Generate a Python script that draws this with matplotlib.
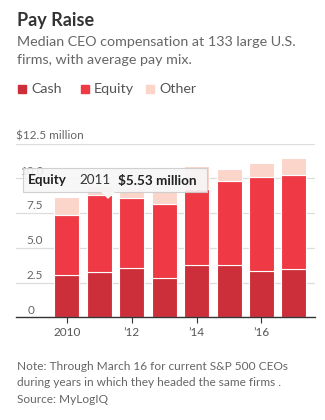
import matplotlib
matplotlib.use("Agg")
import matplotlib.pyplot as plt
from matplotlib.patches import Rectangle, FancyBboxPatch, Polygon
from matplotlib.transforms import blended_transform_factory
import numpy as np

plt.rcParams['font.family'] = ['Lato', 'DejaVu Sans']

years = [2010, 2011, 2012, 2013, 2014, 2015, 2016, 2017]
cash = [3.02, 3.24, 3.52, 2.81, 3.74, 3.74, 3.31, 3.45]
equity = [4.32, 5.53, 5.04, 5.36, 5.47, 6.09, 6.81, 6.81]
other = [1.31, 0.70, 0.75, 1.00, 1.67, 0.84, 1.00, 1.22]
series_names = ["Cash", "Equity", "Other"]
colors = ["#cc2f3a", "#ef3a46", "#fbd4ca"]
yticks = [0, 2.5, 5.0, 7.5, 10.0]
ytick_labels = ["0", "2.5", "5.0", "7.5", "10.0"]
xticks = [2010, 2012, 2014, 2016]
xtick_labels = ["2010", "\u201912", "\u201914", "\u201916"]

W, H = 325, 420
fig = plt.figure(figsize=(W / 100, H / 100), dpi=100)

def fx(px):
    return px / W

def fy(py):
    return 1 - py / H

ax = fig.add_axes([fx(16), fy(317.3), fx(299), (317.3 - 143.5) / H])
ax.set_xlim(2008.43, 2017.65)
ax.set_ylim(0, 12.5)

for s in ["top", "right", "left"]:
    ax.spines[s].set_visible(False)
ax.spines["bottom"].set_color("#333333")
ax.spines["bottom"].set_linewidth(1.0)
ax.spines["bottom"].set_zorder(5)

for v in yticks[1:] + [12.5]:
    ax.axhline(v, color="#dddddd", lw=0.9, zorder=0)

bw = 0.77
bottoms = np.zeros(len(years))
for vals, col in zip([cash, equity, other], colors):
    ax.bar(years, vals, bottom=bottoms, width=bw, color=col,
           edgecolor="white", linewidth=0.8, zorder=2)
    bottoms = bottoms + np.array(vals)

ax.set_yticks([])
ax.set_xticks(xticks)
ax.set_xticklabels(xtick_labels, fontsize=8.5, color="#555555")
ax.tick_params(axis="x", length=4, width=0.8, color="#333333", pad=3)

trans = blended_transform_factory(ax.transAxes, ax.transData)
for v, lab in zip(yticks, ytick_labels):
    xr = 0.0903 if lab != "0" else 0.0635
    ax.text(xr, v + 0.12, lab, transform=trans, ha="right", va="bottom",
            fontsize=8.5, color="#666666", zorder=1)
ax.text(0.0, 12.5 + 0.12, "$12.5 million", transform=trans, ha="left",
        va="bottom", fontsize=8.5, color="#666666")

# Titles
fig.text(fx(17), fy(26), "Pay Raise", fontsize=13, fontweight="bold",
         color="#333333", va="baseline", ha="left")
fig.text(fx(17), fy(46), "Median CEO compensation at 133 large U.S.",
         fontsize=10.3, color="#666666", va="baseline", ha="left")
fig.text(fx(17), fy(64), "firms, with average pay mix.",
         fontsize=10.3, color="#666666", va="baseline", ha="left")

# Legend
leg_x = [18, 81, 146]
for name, col, lx in zip(series_names, colors, leg_x):
    fig.patches.append(Rectangle((fx(lx), fy(93)), fx(8), 8 / H,
                                 transform=fig.transFigure, color=col))
    fig.text(fx(lx + 13), fy(93), name, fontsize=10.3, color="#555555",
             va="baseline", ha="left")

# Tooltip
box = FancyBboxPatch((fx(23), fy(192)), fx(184), 24 / H,
                     boxstyle="square,pad=0", transform=fig.transFigure,
                     facecolor="#f7f7f7", edgecolor="#cccccc", linewidth=0.8,
                     alpha=0.9, zorder=10)
fig.patches.append(box)
tri = Polygon([[fx(101), fy(192)], [fx(115), fy(192)], [fx(108), fy(199)]],
              closed=True, transform=fig.transFigure, facecolor="#f5f5f5",
              edgecolor="none", zorder=11)
fig.patches.append(tri)
fig.text(fx(28), fy(184.5), "Equity", fontsize=9.7, fontweight="bold",
         color="#222222", va="baseline", ha="left", zorder=12)
fig.text(fx(79), fy(184.5), "2011", fontsize=9.7, color="#333333",
         va="baseline", ha="left", zorder=12)
fig.text(fx(117.5), fy(184.5), "$5.53 million", fontsize=9.7, fontweight="bold",
         color="#222222", va="baseline", ha="left", zorder=12)

# Note
fig.text(fx(17), fy(370), "Note: Through March 16 for current S&P 500 CEOs",
         fontsize=8.6, color="#666666", va="baseline", ha="left")
fig.text(fx(17), fy(386.5), "during years in which they headed the same firms .",
         fontsize=8.6, color="#666666", va="baseline", ha="left")
fig.text(fx(17), fy(403), "Source: MyLogIQ",
         fontsize=8.6, color="#666666", va="baseline", ha="left")

fig.savefig("out.png", dpi=100, facecolor="white")
